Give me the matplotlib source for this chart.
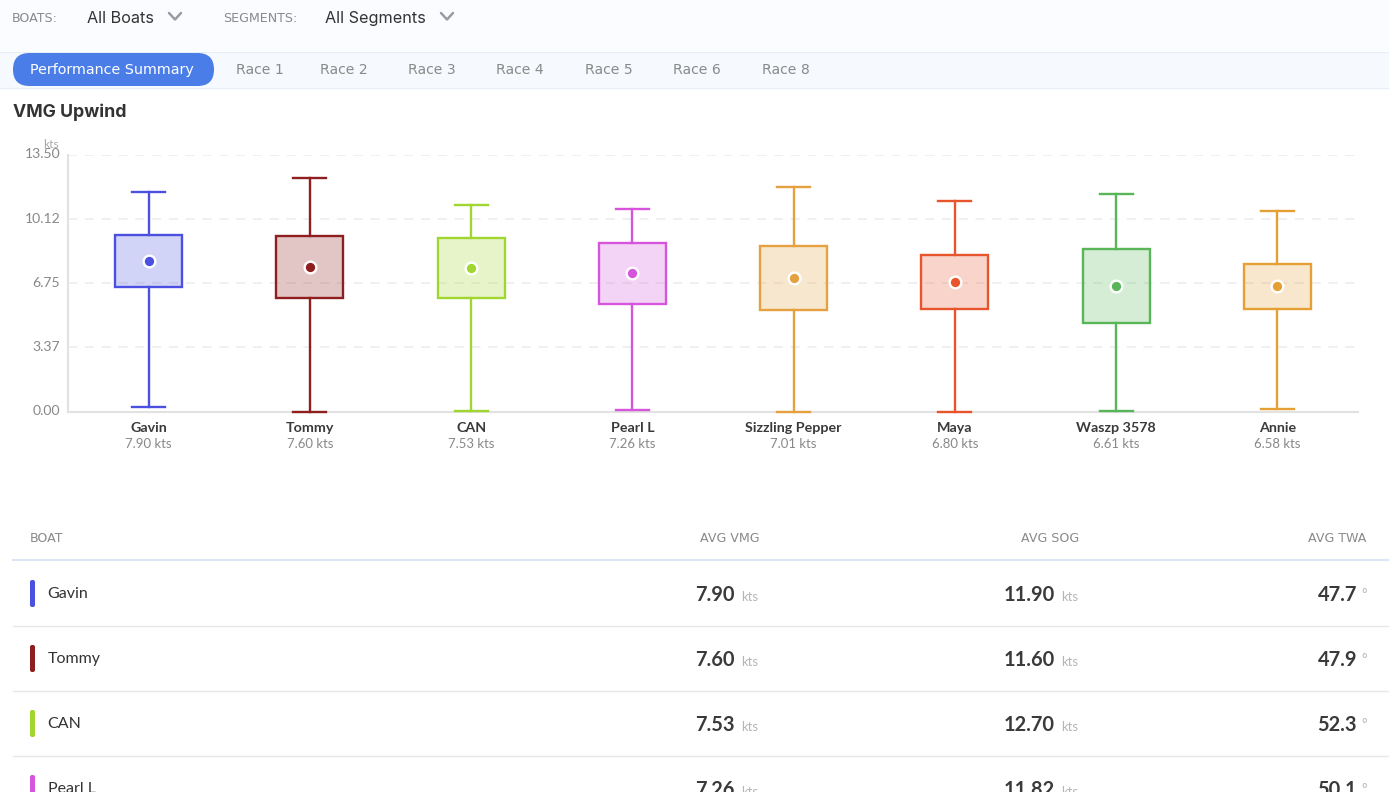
import matplotlib
matplotlib.use("Agg")
import matplotlib.pyplot as plt
from matplotlib.patches import FancyBboxPatch, Rectangle
from matplotlib.transforms import ScaledTranslation

boats = ["Gavin", "Tommy", "CAN", "Pearl L", "Sizzling Pepper", "Maya", "Waszp 3578", "Annie"]
colors = ["#4b50e0", "#8f1f1f", "#a0d62f", "#d655dc", "#e5a040", "#e8552c", "#58b558", "#e5a035"]
whisk_hi = [11.53, 12.27, 10.85, 10.64, 11.77, 11.06, 11.43, 10.53]
q3 = [9.25, 9.22, 9.11, 8.85, 8.69, 8.22, 8.54, 7.77]
q1 = [6.54, 5.96, 5.94, 5.65, 5.31, 5.36, 4.65, 5.36]
whisk_lo = [0.26, 0.0, 0.02, 0.08, 0.0, 0.0, 0.02, 0.13]
avg_vmg = [7.90, 7.60, 7.53, 7.26, 7.01, 6.80, 6.61, 6.58]
yticks = [0.0, 3.37, 6.75, 10.12, 13.50]

table_boats = ["Gavin", "Tommy", "CAN", "Pearl L"]
table_vmg = ["7.90", "7.60", "7.53", "7.26"]
table_sog = ["11.90", "11.60", "12.70", "11.82"]
table_twa = ["47.7", "47.9", "52.3", "50.1"]
tabs = ["Race 1", "Race 2", "Race 3", "Race 4", "Race 5", "Race 6", "Race 8"]
tab_x = [236, 320, 408, 496, 585, 673, 762]

UI = "Inter"
WIDE = "DejaVu Sans"
BODY = "Lato"
W, H = 1389, 792
PX = 0.72

fig = plt.figure(figsize=(W / 100, H / 100), dpi=100, facecolor="white")

# page chrome, laid out in pixel coordinates
bg = fig.add_axes([0, 0, 1, 1], zorder=0)
bg.set_xlim(0, W)
bg.set_ylim(H, 0)
bg.axis("off")
bg.add_patch(Rectangle((0, 0), W, 51, fc="#fbfcff", ec="none"))
bg.add_patch(Rectangle((-5, 51.5), W + 10, 36, fc="#f6f9fe", ec="#e9eef6", lw=0.8))
bg.add_patch(FancyBboxPatch((13 + 16.5, 53 + 16.5), 201 - 33, 0, boxstyle="round,pad=16.5,rounding_size=16.5",
                            fc="#4a7de8", ec="none"))


def t(x, y, s, size, color, family=UI, ha="left", weight="normal"):
    bg.text(x, y, s, fontsize=size * PX, color=color, family=family, ha=ha, va="center", fontweight=weight)


def chevron(x, y):
    bg.plot([x - 6, x, x + 6], [y - 3.5, y + 3, y - 3.5], color="#989ca3", lw=1.8, solid_capstyle="round")


t(12, 18, "BOATS:", 12.6, "#8a8a8a", family=WIDE)
t(87, 18.5, "All Boats", 16.2, "#333333")
chevron(175, 16.5)
t(223, 18, "SEGMENTS:", 12.6, "#8a8a8a", family=WIDE)
t(325, 18.5, "All Segments", 16.2, "#333333")
chevron(447, 16.5)
t(30, 70, "Performance Summary", 14.3, "#ffffff", family=WIDE)
for x, s in zip(tab_x, tabs):
    t(x, 70, s, 14, "#8a8a8a", family=WIDE)
t(13, 112, "VMG Upwind", 17.7, "#333333", weight="bold")
t(59, 144, "kts", 12, "#aaaaaa", family=BODY, ha="right")

# table
t(30, 538, "BOAT", 12.6, "#8a8a8a", family=WIDE)
t(759, 538, "AVG VMG", 12.6, "#8a8a8a", family=WIDE, ha="right")
t(1079, 538, "AVG SOG", 12.6, "#8a8a8a", family=WIDE, ha="right")
t(1366, 538, "AVG TWA", 12.6, "#8a8a8a", family=WIDE, ha="right")
bg.plot([13, W], [560, 560], color="#dbe6f7", lw=1.5)
for i, name in enumerate(table_boats):
    yc = 593 + 65 * i
    bg.add_patch(FancyBboxPatch((31, yc - 12), 3, 25, boxstyle="round,pad=1,rounding_size=2",
                                fc=colors[i], ec="none"))
    t(47.5, yc + 1, name, 16, "#333333", family=BODY)
    t(734.5, yc + 2, table_vmg[i], 20, "#3a3a3a", family=BODY, ha="right", weight="bold")
    t(741.5, yc + 4, "kts", 13, "#b5b5b5", family=BODY)
    t(1054.5, yc + 2, table_sog[i], 20, "#3a3a3a", family=BODY, ha="right", weight="bold")
    t(1061, yc + 4, "kts", 13, "#b5b5b5", family=BODY)
    t(1357, yc + 2, table_twa[i], 20, "#3a3a3a", family=BODY, ha="right", weight="bold")
    t(1361, yc + 1, "°", 13, "#b5b5b5", family=BODY)
    if i < 3:
        bg.plot([13, W], [yc + 33.2, yc + 33.2], color="#e8e8e8", lw=1)

# chart
left, right, top, bottom = 68, 1358, 154.5, 411.5
ax = fig.add_axes([left / W, 1 - bottom / H, (right - left) / W, (bottom - top) / H], zorder=1)
ax.patch.set_alpha(0)
ax.set_xlim(0, len(boats))
ax.set_ylim(0, 13.5)
ax.set_yticks(yticks)
ax.set_yticklabels([f"{v:.2f}" for v in yticks], fontsize=14 * PX, color="#888888", family=BODY)
ax.grid(axis="y", color="#ececec", lw=1.1, linestyle=(0, (6, 5)))
ax.set_axisbelow(True)
for s in ["top", "right"]:
    ax.spines[s].set_visible(False)
for s in ["left", "bottom"]:
    ax.spines[s].set_color("#e2e2e2")
    ax.spines[s].set_linewidth(1.5)
ax.tick_params(axis="y", length=0, pad=5.5)
ax.tick_params(axis="x", length=0, pad=7.6)
for lab in ax.get_yticklabels():
    lab.set_transform(lab.get_transform() + ScaledTranslation(0, 1.2 / 100, fig.dpi_scale_trans))

positions = [i + 0.5 for i in range(len(boats))]
ax.set_xticks(positions)
ax.set_xticklabels(boats, fontsize=14.3 * PX, color="#3a3a3a", family=BODY, fontweight="bold")

for i, c in enumerate(colors):
    stats = [dict(med=avg_vmg[i], q1=q1[i], q3=q3[i], whislo=whisk_lo[i], whishi=whisk_hi[i], fliers=[])]
    style = dict(color=c, lw=1.7, clip_on=False, zorder=3)
    ax.bxp(stats, positions=[positions[i]], widths=0.415, capwidths=0.205, patch_artist=True,
           showfliers=False, manage_ticks=False,
           boxprops=dict(facecolor=matplotlib.colors.to_rgba(c, 0.25), edgecolor=c, lw=1.7, zorder=3),
           whiskerprops=style, capprops=style,
           medianprops=dict(lw=0, alpha=0))
    ax.plot(positions[i], avg_vmg[i], "o", ms=8.4, mfc=c, mec="white", mew=1.7, zorder=5)
    ax.annotate(f"{avg_vmg[i]:.2f} kts", (positions[i], 0), xytext=(0, -33), textcoords="offset pixels",
                ha="center", va="center", fontsize=13.1 * PX, color="#888888", family=BODY, annotation_clip=False)

fig.savefig("out.png", dpi=100)
